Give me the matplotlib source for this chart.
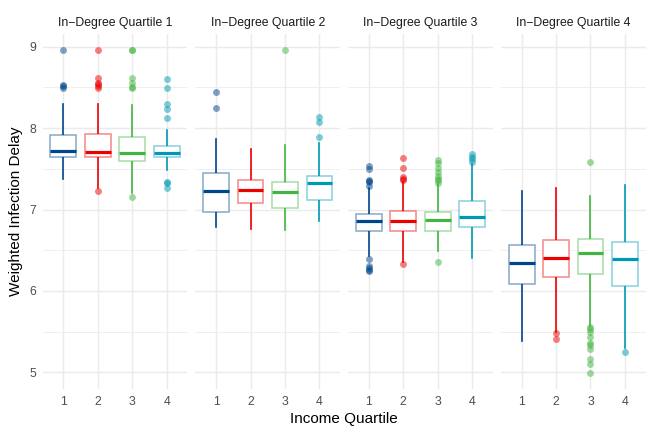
import matplotlib
matplotlib.use("Agg")
import matplotlib.pyplot as plt
from matplotlib.colors import to_rgba

plt.rcParams['font.family'] = ['Liberation Sans', 'DejaVu Sans']

categories = ["1", "2", "3", "4"]
panel_titles = ["In\u2212Degree Quartile 1", "In\u2212Degree Quartile 2",
                "In\u2212Degree Quartile 3", "In\u2212Degree Quartile 4"]
colors = ["#00468B", "#ED0000", "#42B540", "#0099B4"]

# per panel, per income quartile
medians = [[7.72, 7.71, 7.70, 7.70],
           [7.23, 7.24, 7.22, 7.32],
           [6.86, 6.86, 6.87, 6.91],
           [6.34, 6.41, 6.47, 6.39]]
q1 = [[7.65, 7.65, 7.60, 7.65],
      [6.97, 7.08, 7.02, 7.12],
      [6.73, 6.73, 6.74, 6.78],
      [6.08, 6.17, 6.21, 6.06]]
q3 = [[7.91, 7.93, 7.89, 7.78],
      [7.45, 7.36, 7.34, 7.41],
      [6.94, 6.98, 6.97, 7.10],
      [6.56, 6.63, 6.64, 6.60]]
whisker_low = [[7.38, 7.26, 7.20, 7.49],
               [6.78, 6.76, 6.75, 6.86],
               [6.43, 6.35, 6.49, 6.40],
               [5.39, 5.49, 5.57, 5.30]]
whisker_high = [[8.30, 8.30, 8.28, 7.98],
                [7.87, 7.74, 7.79, 7.82],
                [7.26, 7.34, 7.31, 7.56],
                [7.23, 7.26, 7.17, 7.30]]
outliers = [
    [[8.96, 8.53, 8.52, 8.49],
     [8.96, 8.62, 8.56, 8.54, 8.52, 8.49, 7.23],
     [8.96, 8.96, 8.62, 8.55, 8.50, 8.49, 7.15],
     [8.60, 8.49, 8.30, 8.23, 8.13, 7.34, 7.32, 7.26]],
    [[8.44, 8.25], [], [8.96], [8.14, 8.08, 7.89]],
    [[7.54, 7.50, 7.36, 7.35, 7.34, 7.29, 6.39, 6.31, 6.28, 6.26, 6.24],
     [7.63, 7.51, 7.40, 7.37, 7.36, 6.33],
     [7.61, 7.57, 7.51, 7.46, 7.41, 7.38, 7.36, 7.33, 6.35],
     [7.68, 7.65, 7.62, 7.58]],
    [[], [5.48, 5.41],
     [7.58, 5.56, 5.53, 5.49, 5.43, 5.36, 5.33, 5.29, 5.16, 5.10, 4.99],
     [5.25]],
]

fig, axes = plt.subplots(1, 4, figsize=(6.54, 4.36), dpi=100, sharey=True)
fig.subplots_adjust(left=0.0653, right=0.9872, bottom=0.1069, top=0.9227, wspace=0.0554)

grid_col = "#EBEBEB"
for p, ax in enumerate(axes):
    stats = []
    for i in range(4):
        stats.append(dict(med=medians[p][i], q1=q1[p][i], q3=q3[p][i],
                          whislo=whisker_low[p][i], whishi=whisker_high[p][i],
                          fliers=outliers[p][i], label=categories[i]))
    pos = list(range(1, 5))
    res = ax.bxp(stats, positions=pos, widths=0.75, patch_artist=True,
                 showcaps=False, showfliers=True)
    for i in range(4):
        c = colors[i]
        box = res['boxes'][i]
        box.set_facecolor('white')
        box.set_edgecolor(to_rgba(c, 0.45))
        box.set_linewidth(1.15)
        box.set_zorder(3)
        for w in res['whiskers'][2 * i:2 * i + 2]:
            w.set_color(c)
            w.set_linewidth(1.2)
            w.set_zorder(2)
        m = res['medians'][i]
        m.set_color(c)
        m.set_linewidth(2.3)
        m.set_solid_capstyle('butt')
        m.set_zorder(4)
        f = res['fliers'][i]
        f.set_marker('o')
        f.set_markersize(5)
        f.set_markerfacecolor(to_rgba(c, 0.5))
        f.set_markeredgecolor('none')
        f.set_zorder(5)

    ax.set_xlim(0.4, 4.6)
    ax.set_ylim(4.79, 9.16)
    ax.set_xticks(pos)
    ax.set_xticklabels(categories)
    ax.set_yticks([5, 6, 7, 8, 9])
    ax.set_yticks([5.5, 6.5, 7.5, 8.5], minor=True)
    ax.set_xticks([], minor=True)
    ax.grid(which='major', color=grid_col, linewidth=1.07)
    ax.grid(which='minor', axis='y', color=grid_col, linewidth=0.55)
    ax.set_axisbelow(True)
    for s in ax.spines.values():
        s.set_visible(False)
    ax.tick_params(axis='both', which='both', length=0, labelsize=8.8,
                   labelcolor='#4D4D4D')
    ax.tick_params(axis='x', pad=5)
    ax.tick_params(axis='y', pad=5)
    ax.text(0.5, 1.03, panel_titles[p], transform=ax.transAxes,
            ha='center', va='center', fontsize=8.8, color='#1A1A1A')

axes[0].set_ylabel("Weighted Infection Delay", fontsize=11, color='black', labelpad=4)
fig.text(0.526, 0.038, "Income Quartile", ha='center', va='center', fontsize=11)

fig.savefig("out.png", dpi=100, facecolor='white')
